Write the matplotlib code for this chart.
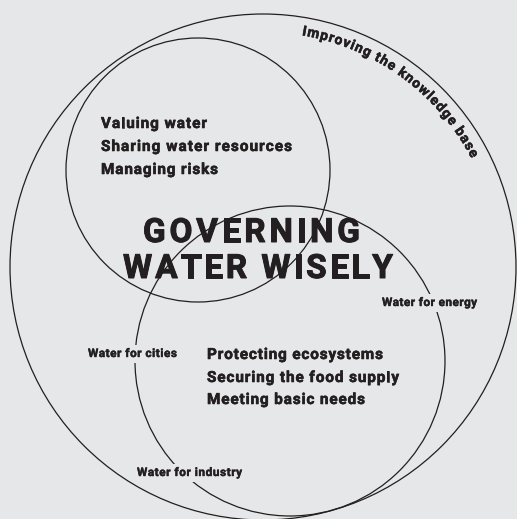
import matplotlib
matplotlib.use('Agg')
import matplotlib.pyplot as plt
from matplotlib.patches import Circle, Rectangle
import matplotlib.patheffects as pe
import numpy as np

W, H = 517, 519
bg = '#e6e7e8'
ink = '#231f20'
FONT = ['Roboto', 'DejaVu Sans']

# circles (pixel space, y down): knowledge base, governance, water uses
circle_cx = [263, 198, 290]
circle_cy = [267, 170, 361]
circle_r = [253, 132, 155]

arc_label = 'Improving the knowledge base'

title_lines = ['GOVERNING', 'WATER WISELY']
title_x = [143, 123]
title_base = [242, 278]
title_w = [217, 270]

gov_items = ['Valuing water', 'Sharing water resources', 'Managing risks']
gov_base = [128, 151, 174]
gov_w = [106, 191, 117]

use_items = ['Protecting ecosystems', 'Securing the food supply', 'Meeting basic needs']
use_base = [359, 382, 404]
use_w = [176, 192, 158]

side_labels = ['Water for cities', 'Water for energy', 'Water for industry']
side_x = [88, 382, 137]
side_base = [357, 306, 476]
side_w = [89, 95, 105]

fig = plt.figure(figsize=(W / 100, H / 100), dpi=100)
fig.patch.set_facecolor(bg)
ax = fig.add_axes([0, 0, 1, 1])
ax.set_xlim(0, W)
ax.set_ylim(H, 0)
ax.axis('off')
renderer = fig.canvas.get_renderer()


def glyph_widths(s, size):
    t = ax.text(0, 0, '||', fontsize=size, fontweight='bold', family=FONT)
    wb = t.get_window_extent(renderer).width
    t.remove()
    out = []
    for ch in s:
        t = ax.text(0, 0, '|' + ch + '|', fontsize=size, fontweight='bold', family=FONT)
        out.append(t.get_window_extent(renderer).width - wb)
        t.remove()
    return out


def heavy(lw):
    return [pe.withStroke(linewidth=lw, foreground=ink)]


def spaced_text(s, x, base, width, size, backdrop=False, stroke=0.4):
    ws = glyph_widths(s, size)
    gap = (width - sum(ws)) / max(len(s) - 1, 1)
    cur = x
    for ch, w in zip(s, ws):
        ax.text(cur + w / 2, base, ch, ha='center', va='baseline', fontsize=size,
                fontweight='bold', family=FONT, color=ink, zorder=3,
                path_effects=heavy(stroke))
        cur += w + gap
    if backdrop:
        px = size * 100 / 72
        cap = 0.711 * px
        ax.add_patch(Rectangle((x - 4, base - cap - 4), width + 8, cap + 0.25 * px + 7,
                               facecolor=bg, edgecolor='none', zorder=2))


def arc_text(s, cx, cy, r, a_start, a_end, size):
    ws = glyph_widths(s, size)
    arc_len = np.radians(a_start - a_end) * r
    gap = (arc_len - sum(ws)) / (len(s) - 1)
    pos = 0
    for ch, w in zip(s, ws):
        th = np.radians(a_start) - (pos + w / 2) / r
        ax.text(cx + r * np.cos(th), cy - r * np.sin(th), ch,
                rotation=np.degrees(th) - 90, rotation_mode='anchor',
                ha='center', va='baseline', fontsize=size, fontweight='bold',
                family=FONT, color=ink, zorder=3, path_effects=heavy(0.35))
        pos += w + gap


for cx, cy, r in zip(circle_cx, circle_cy, circle_r):
    ax.add_patch(Circle((cx, cy), r, facecolor='none', edgecolor=ink, lw=0.9, zorder=1))

arc_text(arc_label, circle_cx[0], circle_cy[0], 235, 80.5, 27.5, 10)

for s, x, b, w in zip(title_lines, title_x, title_base, title_w):
    spaced_text(s, x, b, w, 24, stroke=0.7)

for s, b, w in zip(gov_items, gov_base, gov_w):
    spaced_text(s, 101, b, w, 11, stroke=0.4)

for s, b, w in zip(use_items, use_base, use_w):
    spaced_text(s, 207, b, w, 11, stroke=0.4)

for s, x, b, w in zip(side_labels, side_x, side_base, side_w):
    spaced_text(s, x, b, w, 8.5, backdrop=True, stroke=0.3)

fig.savefig('out.png', dpi=100, facecolor=bg)
